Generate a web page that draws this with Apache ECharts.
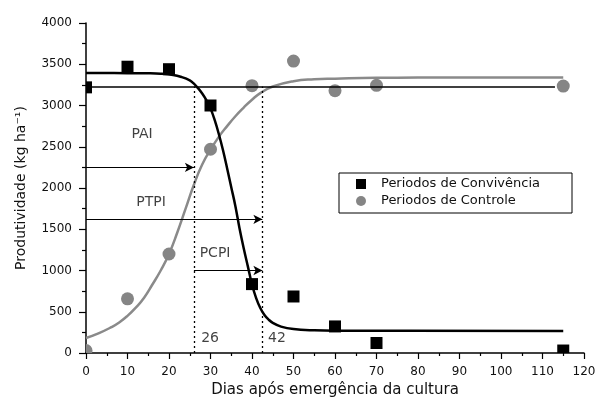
<!DOCTYPE html>
<html><head><meta charset="utf-8">
<script src="https://cdn.jsdelivr.net/npm/echarts@6/dist/echarts.min.js"></script>
<style>html,body{margin:0;padding:0;background:#fff}#c{width:598px;height:403px}</style>
</head><body><div id="c"></div>
<script>
// ---- data ----
const convDays   = [0, 10, 20, 30, 40, 50, 60, 70, 115];
const convYield  = [3220, 3470, 3440, 3000, 835, 685, 322, 121, 30];
const ctrlDays   = [0, 10, 20, 30, 40, 50, 60, 70, 115];
const ctrlYield  = [30, 657, 1200, 2470, 3240, 3538, 3180, 3244, 3236];

const convCurveDays  = [0, 10, 15, 18, 21, 23, 25, 26, 27, 28, 29, 30, 31, 32, 33, 34, 35, 36, 37, 38, 39, 40, 41, 42, 43, 44, 45, 47, 50, 55, 60, 115];
const convCurveYield = [3395, 3392, 3390, 3385, 3370, 3345, 3305, 3265, 3210, 3145, 3065, 2965, 2825, 2655, 2460, 2240, 2010, 1780, 1510, 1270, 1050, 830, 665, 545, 460, 405, 365, 320, 290, 275, 270, 268];
const ctrlCurveDays  = [0, 3, 6, 8, 10, 12, 14, 16, 18, 20, 22, 24, 26, 28, 30, 32, 34, 36, 38, 40, 42, 45, 50, 55, 60, 70, 80, 115];
const ctrlCurveYield = [182, 238, 310, 370, 450, 550, 670, 830, 1000, 1200, 1460, 1750, 2040, 2285, 2465, 2620, 2750, 2870, 2975, 3070, 3150, 3230, 3295, 3318, 3325, 3335, 3338, 3340];

const refYield = 3230;          // horizontal reference line
const refLineEnd = 113;
const periodDays = [26, 42.5];  // PAI end, PTPI end
const arrowPAI  = [[0, 2250], [26, 2250]];
const arrowPTPI = [[0, 1620], [42.5, 1620]];
const arrowPCPI = [[26, 1000], [42.5, 1000]];
const annotations = [
  [13.5, 2655, 'PAI'], [15.7, 1823, 'PTPI'], [31.1, 1202, 'PCPI'],
  [29.9, 173, '26'], [46, 173, '42']
];
const xTicks = {min: 0, max: 120, interval: 10};
const yTicks = {min: 0, max: 4000, interval: 500};
const seriesNames = ['Periodos de Convivência', 'Periodos de Controle'];

// ---- chart ----
const FONT = 'DejaVu Sans';
const CONV_COLOR = '#000';
const CTRL_COLOR = '#858585';
const zip = (a, b) => a.map((v, i) => [v, b[i]]);
const chart = echarts.init(document.getElementById('c'), null, {renderer: 'canvas'});
const arrowLine = (pts) => [{coord: pts[0], symbol: 'none'}, {coord: pts[1], symbol: 'arrow'}];

const squareItem = (params, api) => {
  const p = api.coord([api.value(0), api.value(1)]);
  const s = 12;
  return {type: 'rect', shape: {x: p[0] - s / 2, y: p[1] - s / 2, width: s, height: s},
          style: {fill: CONV_COLOR}};
};
const circleItem = (params, api) => {
  const p = api.coord([api.value(0), api.value(1)]);
  return {type: 'circle', shape: {cx: p[0], cy: p[1], r: 6.5}, style: {fill: CTRL_COLOR}};
};

chart.setOption({
  animation: false,
  backgroundColor: '#fff',
  grid: {left: 86, right: 14, top: 23, bottom: 50, containLabel: false, outerBoundsMode: 'none'},
  legend: {
    orient: 'vertical', left: 339, top: 173,
    backgroundColor: '#fff', borderColor: '#000', borderWidth: 1, borderRadius: 0,
    padding: [4, 32, 5, 17],
    itemWidth: 30, itemHeight: 10, itemGap: 3, symbolKeepAspect: true,
    textStyle: {fontFamily: FONT, fontSize: 13, color: '#111', lineHeight: 14},
    data: [
      {name: seriesNames[0], icon: 'path://M0,0L10,0L10,10L0,10Z', itemStyle: {color: CONV_COLOR}},
      {name: seriesNames[1], icon: 'circle', itemStyle: {color: CTRL_COLOR}}
    ]
  },
  xAxis: {
    type: 'value', min: xTicks.min, max: xTicks.max, interval: xTicks.interval,
    name: 'Dias após emergência da cultura', nameLocation: 'middle', nameGap: 28,
    nameTextStyle: {fontFamily: FONT, fontSize: 15, color: '#111'},
    axisLine: {lineStyle: {color: '#000', width: 1.5}},
    axisTick: {show: true, length: 6, lineStyle: {color: '#000', width: 1.2}},
    minorTick: {show: true, splitNumber: 2, length: 3, lineStyle: {color: '#000', width: 1.2}},
    axisLabel: {fontFamily: FONT, fontSize: 12, color: '#111', margin: 13, formatter: v => String(v)},
    splitLine: {show: false}
  },
  yAxis: {
    type: 'value', min: yTicks.min, max: yTicks.max, interval: yTicks.interval,
    name: 'Produtividade (kg ha⁻¹)', nameLocation: 'middle', nameGap: 58, nameRotate: 90,
    nameTextStyle: {fontFamily: FONT, fontSize: 14, color: '#111'},
    axisLine: {show: true, lineStyle: {color: '#000', width: 1.5}},
    axisTick: {show: true, length: 7, lineStyle: {color: '#000', width: 1.2}},
    minorTick: {show: true, splitNumber: 2, length: 4, lineStyle: {color: '#000', width: 1.2}},
    axisLabel: {fontFamily: FONT, fontSize: 12, color: '#111', margin: 14, formatter: v => String(v)},
    splitLine: {show: false}
  },
  series: [
    {
      name: 'curveCtrl', type: 'line', smooth: 0.5, showSymbol: false, symbol: 'none',
      data: zip(ctrlCurveDays, ctrlCurveYield),
      lineStyle: {color: '#8a8a8a', width: 2.5}, z: 2
    },
    {
      name: 'curveConv', type: 'line', smooth: 0.4, showSymbol: false, symbol: 'none',
      data: zip(convCurveDays, convCurveYield),
      lineStyle: {color: '#000', width: 2.5}, z: 3,
      markLine: {
        silent: true, symbol: 'none', animation: false,
        label: {show: false},
        data: [
          [{coord: [0, refYield], lineStyle: {type: 'solid', width: 1.5, color: '#000'}}, {coord: [refLineEnd, refYield]}],
          [{coord: [periodDays[0], 0], lineStyle: {type: [2, 3], width: 1.3, color: '#000'}}, {coord: [periodDays[0], refYield]}],
          [{coord: [periodDays[1], 0], lineStyle: {type: [2, 3], width: 1.3, color: '#000'}}, {coord: [periodDays[1], refYield]}],
          arrowLine(arrowPAI), arrowLine(arrowPTPI), arrowLine(arrowPCPI)
        ],
        symbolSize: [7, 9],
        lineStyle: {type: 'solid', width: 1.2, color: '#000'}
      }
    },
    {
      name: seriesNames[0], type: 'custom', renderItem: squareItem, clip: true,
      encode: {x: 0, y: 1}, itemStyle: {color: CONV_COLOR},
      data: zip(convDays, convYield), z: 5
    },
    {
      name: seriesNames[1], type: 'custom', renderItem: circleItem, clip: true,
      encode: {x: 0, y: 1}, itemStyle: {color: CTRL_COLOR},
      data: zip(ctrlDays, ctrlYield), z: 4
    },
    {
      name: 'labels', type: 'scatter', symbol: 'circle', symbolSize: 1, silent: true,
      itemStyle: {color: 'rgba(0,0,0,0)'},
      data: annotations.map(a => ({value: [a[0], a[1]], name: a[2]})),
      label: {show: true, position: 'inside', formatter: p => p.name,
              fontFamily: FONT, fontSize: 14, color: '#111'},
      z: 6
    }
  ]
});
</script></body></html>
